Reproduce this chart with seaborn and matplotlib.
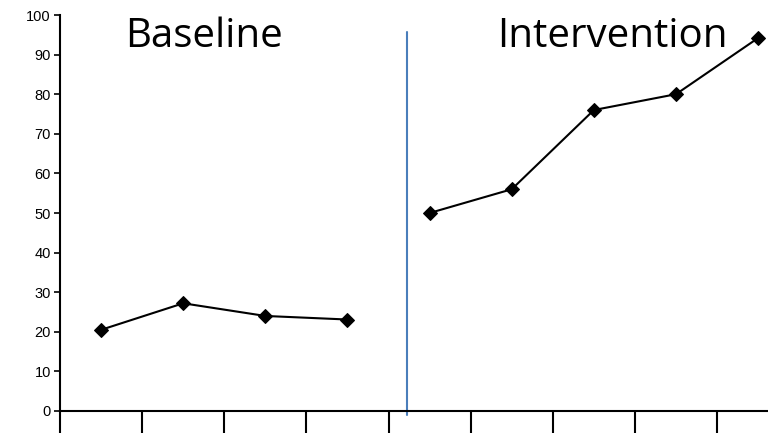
import numpy as np
import pandas as pd
import seaborn as sns
import matplotlib.pyplot as plt

# values
baseline_sessions = [0, 1, 2, 3]
baseline_scores = [20.5, 27.2, 24.0, 23.1]
intervention_sessions = [4, 5, 6, 7, 8]
intervention_scores = [50.0, 56.0, 76.0, 80.0, 94.2]
phase_labels = ["Baseline", "Intervention"]
phase_change = 3.73
y_ticks = list(range(0, 101, 10))

df = pd.DataFrame({
    "session": baseline_sessions + intervention_sessions,
    "score": baseline_scores + intervention_scores,
    "phase": [phase_labels[0]] * len(baseline_sessions) + [phase_labels[1]] * len(intervention_sessions),
})

sns.set_style("white")
plt.rcParams['font.family'] = ['Liberation Sans', 'DejaVu Sans']
plt.rcParams['text.color'] = 'black'
plt.rcParams['ytick.color'] = 'black'
plt.rcParams['xtick.color'] = 'black'

fig = plt.figure(figsize=(7.68, 4.33), dpi=100)
#axes placed in pixels: left 60, y=0 at 411, y=100 at 15, running off the right edge
ax = fig.add_axes([60/768, (433-411)/433, (768-60)/768, (411-15)/433])

for ph in phase_labels:
    sub = df[df.phase == ph]
    sns.lineplot(data=sub, x="session", y="score", ax=ax, color="black",
                 marker="D", markersize=7, markeredgecolor="black",
                 linewidth=1.5, estimator=None)

ax.plot([phase_change, phase_change], [-1, 95.7], color="#4a7ebb", lw=1.5, clip_on=False)

ax.text(1.25, 94.5, phase_labels[0], fontsize=29, family=['Open Sans', 'DejaVu Sans'],
        ha="center", va="center", color="black")
ax.text(6.22, 94.5, phase_labels[1], fontsize=29, family=['Open Sans', 'DejaVu Sans'],
        ha="center", va="center", color="black")

ax.set_xlim(-0.5, 8.12)
ax.set_ylim(0, 100)
ax.set_yticks(y_ticks)
ax.set_yticklabels([str(t) for t in y_ticks], fontsize=10.5)
ax.set_xticks(np.arange(-0.5, 8.0, 1.0))
ax.set_xticklabels([])
ax.tick_params(axis="x", direction="out", length=15.8, width=1.5, color="black", bottom=True)
ax.tick_params(axis="y", direction="out", length=4.5, width=1.2, color="black", left=True, pad=2)
ax.set_xlabel("")
ax.set_ylabel("")
sns.despine(ax=ax)
for s in ["left", "bottom"]:
    ax.spines[s].set_color("black")
    ax.spines[s].set_linewidth(1.5)

fig.savefig("out.png", dpi=100)
